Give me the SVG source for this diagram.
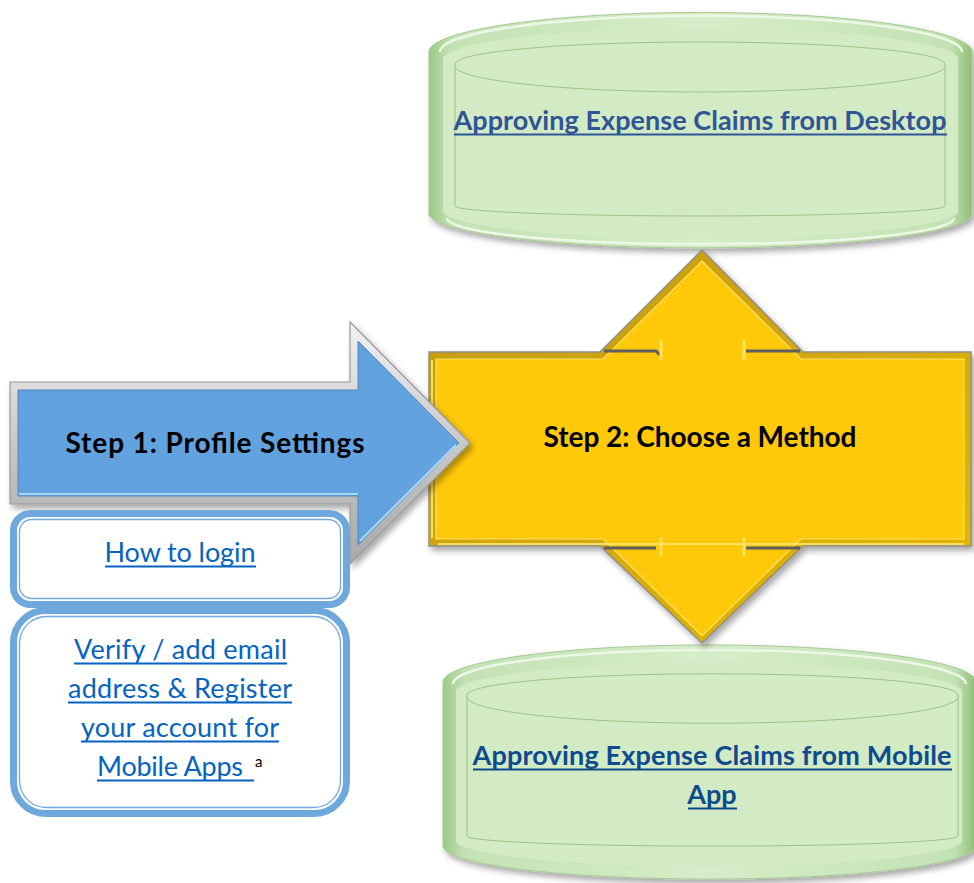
<svg xmlns="http://www.w3.org/2000/svg" width="974" height="883" viewBox="0 0 974 883">
<style>
.lbl{font-family:Lato,"Open Sans","Liberation Sans",sans-serif;font-weight:bold;fill:#000;text-anchor:middle}
.link{font-family:Lato,"Open Sans","Liberation Sans",sans-serif;fill:#0563C1;text-anchor:middle}
.cyl{font-family:Lato,"Open Sans","Liberation Sans",sans-serif;font-weight:bold;text-anchor:middle}
.ul{stroke:#0563C1;stroke-width:1.8}
.box{fill:#fff;stroke:#6FA8DC;stroke-width:7}
.boxin{fill:none;stroke:#6FA8DC;stroke-width:1.3}
.cylline{fill:none;stroke:#9CC287;stroke-width:1}
.cylhi{fill:none;stroke:#EFF8EA;stroke-width:2.5;opacity:.9}
</style>
<defs>
<filter id="sh" x="-10%" y="-10%" width="125%" height="130%">
<feGaussianBlur in="SourceAlpha" stdDeviation="3"/>
<feOffset dx="3" dy="4" result="b"/>
<feComponentTransfer><feFuncA type="linear" slope="0.35"/></feComponentTransfer>
<feMerge><feMergeNode/><feMergeNode in="SourceGraphic"/></feMerge>
</filter>
<linearGradient id="gEdge" x1="0" y1="0" x2="1" y2="0">
<stop offset="0" stop-color="#9DC888"/>
<stop offset="0.04" stop-color="#C3E2B3"/>
<stop offset="0.5" stop-color="#D6EDC9"/>
<stop offset="0.96" stop-color="#C3E2B3"/>
<stop offset="1" stop-color="#8FBD78"/>
</linearGradient>
<linearGradient id="gSilver" x1="0" y1="0" x2="0" y2="1">
<stop offset="0" stop-color="#F2F2F2"/>
<stop offset="0.5" stop-color="#C9C9C9"/>
<stop offset="1" stop-color="#A9A9A9"/>
</linearGradient>
<linearGradient id="gGold" x1="0" y1="0" x2="1" y2="1">
<stop offset="0" stop-color="#C29A10"/>
<stop offset="1" stop-color="#E7B800"/>
</linearGradient>
</defs>

<g id="connectors"></g>

<g id="desktop">
<path filter="url(#sh)" d="M429,50 A272 40 0 0 1 972,50 L972,215 A272 35 0 0 1 429,215 Z" fill="url(#gEdge)" stroke="#A7C995" stroke-width="1"/>
<path d="M443,58 A258 32 0 0 1 958,58 L958,212 A258 28 0 0 1 443,212 Z" fill="#D3EBC4"/>
<path class="cylhi" d="M440,52 A260 36 0 0 1 962,52"/>
<path class="cylline" d="M455,66 A245 26 0 0 0 945,66"/>
<path class="cylline" d="M455,64 A245 22 0 0 1 945,64 L945,206 A245 10 0 0 1 455,206 Z"/>
<path class="cylhi" d="M447,218 A253 26 0 0 0 954,218" opacity=".5"/>
<text class="cyl" x="700" y="130" font-size="27" textLength="493" fill="#2F5597">Approving Expense Claims from Desktop</text>
<line x1="454" y1="134.5" x2="947" y2="134.5" stroke="#2F5597" stroke-width="2.2"/>
</g>

<g id="mobile">
<path filter="url(#sh)" d="M443,682 A266 37 0 0 1 976,682 L976,846 A266 33 0 0 1 443,846 Z" fill="url(#gEdge)" stroke="#A7C995" stroke-width="1"/>
<path d="M456,690 A254 30 0 0 1 962,690 L962,842 A254 27 0 0 1 456,842 Z" fill="#D3EBC4"/>
<path class="cylhi" d="M453,684 A256 34 0 0 1 966,684"/>
<path class="cylline" d="M467,697 A243 26 0 0 0 958,697"/>
<path class="cylline" d="M467,695 A243 21 0 0 1 958,695 L958,836 A243 10 0 0 1 467,836 Z"/>
<text class="cyl" x="712" y="765" font-size="27" textLength="479" fill="#0E4A8E">Approving Expense Claims from Mobile</text>
<line x1="473" y1="769.5" x2="952" y2="769.5" stroke="#0E4A8E" stroke-width="2.2"/>
<text class="cyl" x="712" y="804" font-size="27" fill="#0E4A8E">App</text>
<line x1="688" y1="808.5" x2="737" y2="808.5" stroke="#0E4A8E" stroke-width="2.2"/>
</g>

<g id="step2">
<polygon filter="url(#sh)" points="429,352 600,352 702,250 803,352 971,352 971,546 803,546 702,643 600,546 429,546" fill="url(#gGold)" stroke="#8E8E8E" stroke-width="1.5"/>
<polygon points="436,359 603,359 702,261 801,359 964,359 964,539 801,539 702,636 603,539 436,539" fill="#FFC90A" stroke="#FFE36A" stroke-width="1.2"/>
<path d="M432,538 L432,360 M438,544 L964,544" stroke="#FFEB7A" stroke-width="2" fill="none" opacity=".8"/>
<path d="M604,351 L656,351 L660,355 M746,351 L800,351" stroke="#5E5E5E" stroke-width="3" fill="none"/>
<path d="M661,340 L661,360 M744,340 L744,360" stroke="#FFE25A" stroke-width="3" fill="none"/>
<path d="M604,548 L656,548 M746,548 L800,548" stroke="#5E5E5E" stroke-width="3" fill="none"/>
<path d="M661,538 L661,556 M744,538 L744,556" stroke="#FFE25A" stroke-width="3" fill="none"/>
<text class="lbl" x="700" y="447" font-size="28" textLength="313">Step 2: Choose a Method</text>
</g>

<g id="step1">
<polygon filter="url(#sh)" points="10,382 350,382 350,322 470,443 350,564 350,504 10,504" fill="url(#gSilver)" stroke="#9A9A9A" stroke-width="1.2"/>
<polygon points="18,390 358,390 358,341 459,443 358,545 358,496 18,496" fill="#62A2DF" stroke="#4E86BE" stroke-width="1"/>
<path d="M19,494 L358,494 M360,541 L456,445" stroke="#A8D6F7" stroke-width="2.2" fill="none"/>
<text class="lbl" x="215" y="453" font-size="28" textLength="299">Step 1: Profile Settings</text>
</g>

<g id="login">
<rect class="box" x="13.5" y="513.5" width="333" height="91" rx="17"/>
<rect class="boxin" x="19.5" y="519.5" width="321" height="79" rx="12"/>
<text class="link" x="180" y="562" font-size="27" textLength="151">How to login</text>
<line class="ul" x1="105" y1="566.5" x2="256" y2="566.5"/>
</g>

<g id="register">
<rect class="box" x="13.5" y="610.5" width="333" height="203" rx="32"/>
<rect class="boxin" x="19.5" y="616.5" width="321" height="191" rx="27"/>
<text class="link" x="180.5" y="659" font-size="27" textLength="213">Verify / add email</text>
<line class="ul" x1="74" y1="663.5" x2="287" y2="663.5"/>
<text class="link" x="180" y="698" font-size="27" textLength="224">address &amp; Register</text>
<line class="ul" x1="68" y1="702.5" x2="292" y2="702.5"/>
<text class="link" x="180" y="737" font-size="27" textLength="198">your account for</text>
<line class="ul" x1="81" y1="741.5" x2="279" y2="741.5"/>
<text class="link" x="97" y="776" font-size="27" textLength="146" style="text-anchor:start">Mobile Apps</text>
<line class="ul" x1="97" y1="780.5" x2="254" y2="780.5"/>
<text x="255" y="767" font-size="15" font-family="Lato,'Liberation Sans',sans-serif" fill="#000">a</text>
</g>
</svg>
